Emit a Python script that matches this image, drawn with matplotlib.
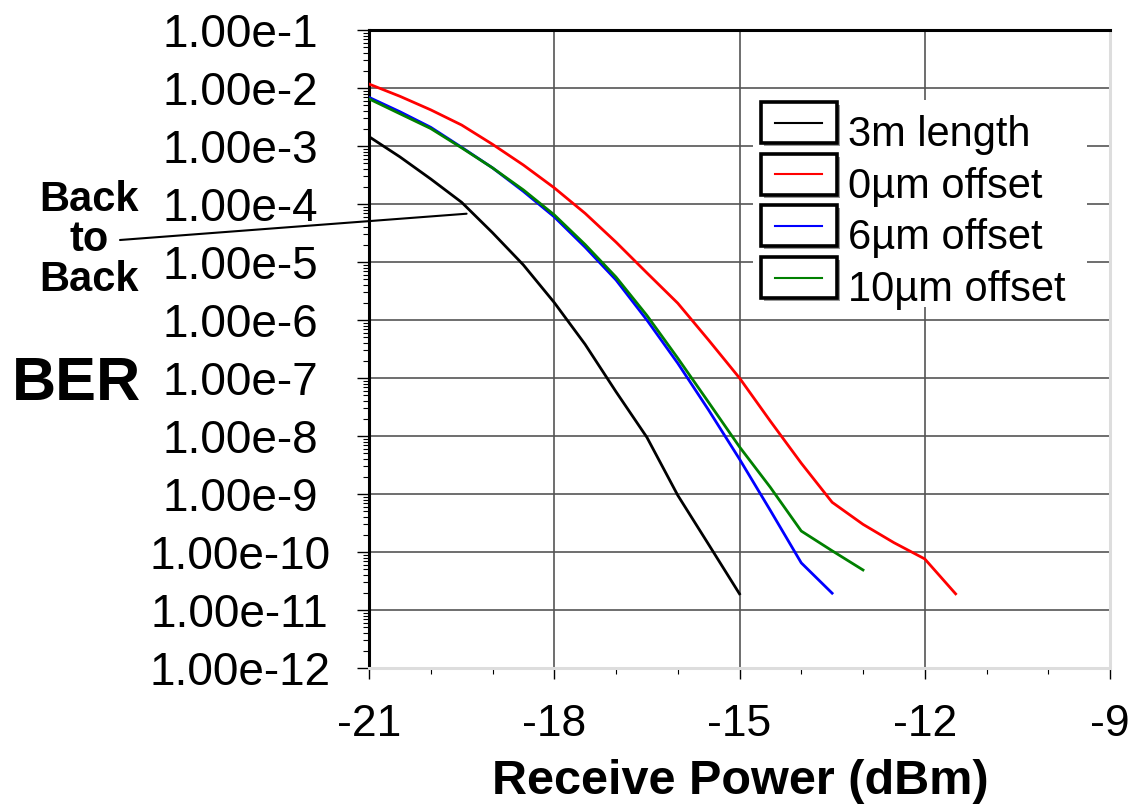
"""
BER vs receive power for back-to-back and fibre offset cases.
"""

import numpy as np
import matplotlib.pyplot as plt
from matplotlib.patches import Rectangle
from matplotlib.lines import Line2D
from matplotlib.ticker import FuncFormatter, LogLocator, MultipleLocator

plt.rcParams['font.family'] = ['Liberation Sans', 'DejaVu Sans']
plt.rcParams['axes.unicode_minus'] = False

# data (BER values)
power_3m = [-21, -20.5, -20, -19.5, -19, -18.5, -18, -17.5, -17, -16.5, -16, -15.5, -15]
ber_3m = [1.45e-3, 6.5e-4, 2.7e-4, 1.07e-4, 3.2e-5, 8.9e-6, 2.0e-6, 3.8e-7,
          5.8e-8, 9.5e-9, 9.5e-10, 1.35e-10, 1.9e-11]

power_0um = [-21, -20.5, -20, -19.5, -19, -18.5, -18, -17.5, -17, -16.5,
             -16, -15.5, -15, -14.5, -14, -13.5, -13, -12.5, -12, -11.5]
ber_0um = [1.17e-2, 7.2e-3, 4.2e-3, 2.3e-3, 1.07e-3, 4.7e-4, 1.9e-4, 6.9e-5,
           2.2e-5, 6.5e-6, 1.95e-6, 4.5e-7, 1.0e-7, 1.8e-8, 3.4e-9, 7.2e-10,
           3.0e-10, 1.45e-10, 7.6e-11, 1.9e-11]

power_6um = [-21, -20.5, -20, -19.5, -19, -18.5, -18, -17.5, -17, -16.5,
             -16, -15.5, -15, -14.5, -14, -13.5]
ber_6um = [6.9e-3, 3.9e-3, 2.1e-3, 9.5e-4, 4.2e-4, 1.65e-4, 6.0e-5, 1.8e-5,
           4.9e-6, 1.0e-6, 1.8e-7, 2.8e-8, 4.0e-9, 5.2e-10, 6.5e-11, 1.95e-11]

power_10um = [-21, -20.5, -20, -19.5, -19, -18.5, -18, -17.5, -17, -16.5,
              -16, -15.5, -15, -14.5, -14, -13.5, -13]
ber_10um = [6.5e-3, 3.6e-3, 2.0e-3, 9.3e-4, 4.2e-4, 1.75e-4, 6.5e-5, 2.0e-5,
            5.5e-6, 1.2e-6, 2.2e-7, 3.8e-8, 6.5e-9, 1.3e-9, 2.3e-10, 1.05e-10, 4.9e-11]

labels = ["3m length", "0\u00b5m offset", "6\u00b5m offset", "10\u00b5m offset"]
colors = ["black", "red", "blue", "green"]
x_ticks = [-21, -18, -15, -12, -9]

W, H = 1130, 807


def fx(px):
    return px / W


def fy(py):
    return 1 - py / H


fig = plt.figure(figsize=(W / 100, H / 100), dpi=100)
ax = fig.add_axes([fx(369), fy(668), (1110 - 369) / W, (668 - 30) / H])

series = [(power_3m, ber_3m), (power_0um, ber_0um), (power_6um, ber_6um), (power_10um, ber_10um)]
for (x, y), c in zip(series, colors):
    ax.plot(x, y, color=c, lw=2, zorder=3)

ax.set_yscale("log")
ax.set_ylim(1e-12, 1e-1)
ax.set_xlim(-21, -9)
ax.set_xticks(x_ticks)
ax.xaxis.set_minor_locator(MultipleLocator(1))
ax.yaxis.set_major_locator(LogLocator(base=10, numticks=20))
ax.yaxis.set_minor_locator(LogLocator(base=10, subs=np.arange(2, 10), numticks=20))
ax.yaxis.set_major_formatter(FuncFormatter(lambda v, pos: f"1.00e{int(round(np.log10(v)))}"))

# y labels are centred in a column left of the axis
ax.tick_params(axis="y", which="major", direction="out", length=9, width=1, pad=84, labelsize=33)
ax.tick_params(axis="y", which="minor", direction="out", length=4, width=0.8)
ax.tick_params(axis="x", which="major", direction="out", length=8, width=1, pad=18, labelsize=32)
ax.tick_params(axis="x", which="minor", direction="out", length=4, width=0.8)
for lbl in ax.get_yticklabels():
    lbl.set_horizontalalignment("center")

ax.grid(True, which="major", color="#555555", lw=1.2, zorder=1)

ax.spines["left"].set_linewidth(2.2)
ax.spines["left"].set_color("black")
ax.spines["top"].set_linewidth(2.2)
ax.spines["top"].set_color("black")
for s in ["right", "bottom"]:
    ax.spines[s].set_linewidth(2.2)
    ax.spines[s].set_color("#dddddd")

fig.text(fx(740), fy(782), "Receive Power (dBm)", ha="center", va="center",
         fontsize=35, fontweight="bold")
fig.text(fx(77), fy(385), "BER", ha="center", va="center", fontsize=44, fontweight="bold")

# back to back note
fig.text(fx(89), fy(240), "Back\nto\nBack", ha="center", va="center", fontsize=30,
         fontweight="bold", linespacing=1.0, multialignment="center")
ax.annotate("", xy=(-19.42, 6.8e-5), xycoords="data",
            xytext=(fx(120), fy(240)), textcoords="figure fraction",
            arrowprops=dict(arrowstyle="-", lw=1.5, color="black", shrinkA=0, shrinkB=0),
            annotation_clip=False)

# legend: each entry in its own shadowed box
fig.add_artist(Rectangle((fx(753), fy(307)), (1087 - 753) / W, (307 - 100) / H,
                         transform=fig.transFigure, facecolor="white", edgecolor="none", zorder=5))
for i, (lab, c) in enumerate(zip(labels, colors)):
    top = 102 + 51.7 * i
    bot = top + 41
    fig.add_artist(Rectangle((fx(764), fy(bot + 3)), 76 / W, 41 / H, transform=fig.transFigure,
                             facecolor="#999999", edgecolor="none", zorder=6))
    fig.add_artist(Rectangle((fx(761), fy(bot)), 76 / W, 41 / H, transform=fig.transFigure,
                             facecolor="white", edgecolor="black", lw=2.6, zorder=7))
    mid = (top + bot) / 2
    fig.add_artist(Line2D([fx(775), fx(822)], [fy(mid), fy(mid)], transform=fig.transFigure,
                          color=c, lw=1.5, zorder=8))
    fig.text(fx(848), fy(bot + 3), lab, ha="left", va="baseline", fontsize=30, zorder=8)

fig.savefig("out.png", dpi=100)
